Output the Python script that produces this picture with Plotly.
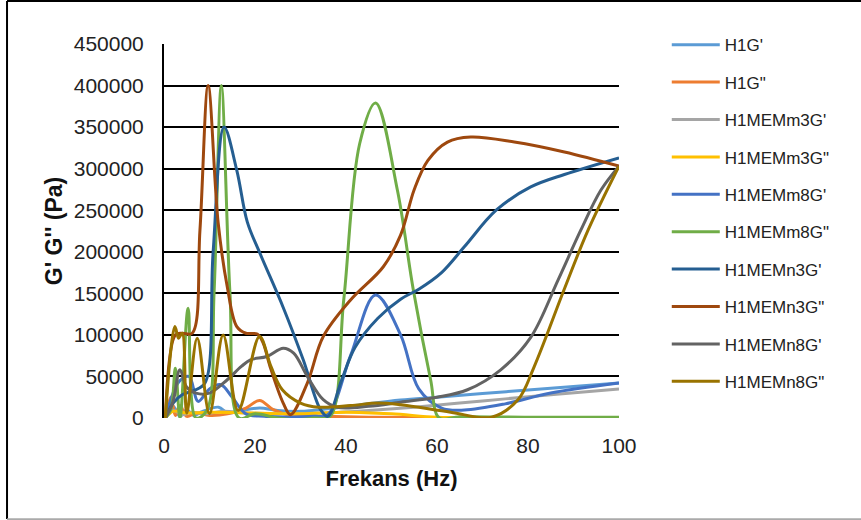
import plotly.graph_objects as go

# Frequency sweep (Hz) and moduli (Pa) for each sample
x_h1g1 = [0.3, 2, 3.5, 5, 6.5, 8.5, 12, 14, 17, 21, 25, 30, 36, 42, 52, 60, 70, 80, 90, 100]
y_h1g1 = [0, 14000, 2000, 10000, 3000, 8000, 13000, 6000, 9000, 12000, 9000, 8000, 11000, 15000, 21600, 25000, 29500, 33700, 38000, 42000]

x_h1g2 = [0.3, 1.5, 2.5, 3.5, 5, 7, 10, 14, 18, 21, 24, 28, 35, 45, 60, 80, 100]
y_h1g2 = [0, 25000, 3000, 15000, 2000, 6000, 3000, 5000, 12000, 21000, 10000, 3000, 2000, 1000, 500, 500, 500]

x_m3g1 = [0.3, 2, 4, 6, 9, 13, 18, 25, 35, 45, 55, 65, 75, 85, 100]
y_m3g1 = [0, 9000, 4000, 7000, 5000, 8000, 6000, 5000, 6000, 9000, 13000, 18000, 23000, 28000, 35000]

x_m3g2 = [0.3, 2, 5, 10, 20, 30, 40, 50, 60, 70, 100]
y_m3g2 = [0, 8000, 6000, 7000, 6000, 5000, 7000, 5000, 1000, 500, 500]

x_m8g1 = [0.3, 2, 3.5, 5.5, 7.5, 10, 12.5, 15, 18, 22, 28, 33, 36, 41, 46.5, 52, 56, 61, 66, 75, 85, 100]
y_m8g1 = [0, 30000, 45000, 50000, 20000, 35000, 40000, 25000, 5000, 2000, 1000, 2000, 4000, 75000, 148000, 100000, 35000, 12000, 9600, 17000, 30000, 42000]

x_m8g2 = [0.3, 1.5, 2.5, 3.5, 5.3, 7, 9.5, 11, 12.6, 14.5, 16.5, 20, 25, 29, 33, 36.5, 39.5, 43, 46.5, 51.3, 54.8, 58.6, 60.5, 65, 80, 100]
y_m8g2 = [0, 10000, 60000, 0, 132000, 0, 10000, 150000, 400000, 150000, 0, 5000, 0, -2000, 0, 2000, 142000, 330000, 379000, 274000, 154000, 46000, 0, 1500, 1000, 1000]

x_n3g1 = [0.3, 2, 4, 6.5, 9, 10.8, 13.2, 16, 18.3, 21.1, 26.2, 30.6, 34.4, 36, 39, 42, 47, 52, 56, 61, 66, 73, 80.6, 88, 100]
y_n3g1 = [0, 18000, 28000, 33000, 42000, 200000, 350000, 298000, 236000, 198000, 133000, 70000, 10000, 2000, 45000, 85000, 120000, 143000, 155000, 175000, 206000, 250000, 278000, 293000, 313000]

x_n3g2 = [0.3, 2.5, 4, 6.2, 7.9, 9.7, 11.9, 13.9, 16, 18, 20.5, 21.8, 23.3, 26.2, 27.8, 31.5, 35, 41, 48.2, 52, 55, 58, 62.3, 67.4, 77, 88, 100]
y_n3g2 = [0, 100000, 102000, 102000, 226000, 400000, 235000, 158000, 110000, 102000, 101000, 90000, 62000, 18000, 4000, 42000, 98000, 142000, 182000, 220000, 275000, 310000, 332000, 338000, 332000, 320000, 303000]

x_n8g1 = [0.3, 2, 3.5, 5, 7, 10, 13.9, 17, 19, 22.6, 26.2, 28.5, 31.5, 35, 38, 45, 52, 60, 66.7, 74, 80.6, 86.6, 91.6, 96, 100]
y_n8g1 = [0, 20000, 58000, 37000, 30000, 30000, 46000, 62000, 70000, 74000, 84000, 78000, 50000, 22000, 13000, 14000, 19000, 25000, 34000, 58000, 97000, 166000, 226000, 274000, 303000]

x_n8g2 = [0.3, 2.4, 3.2, 4, 5, 7.3, 10, 13, 16.3, 21, 23.5, 26, 30, 34, 41, 47, 52, 63, 72, 77.8, 81.3, 87.9, 93.2, 100]
y_n8g2 = [0, 110000, 96000, 102000, 6000, 96000, 5000, 100000, 9000, 98000, 62000, 34000, 18000, 13000, 15000, 18000, 16000, 7000, 1000, 22000, 61000, 154000, 226000, 303000]

series = [
    ("H1G'", x_h1g1, y_h1g1, "#5B9BD5"),
    ('H1G"', x_h1g2, y_h1g2, "#ED7D31"),
    ("H1MEMm3G'", x_m3g1, y_m3g1, "#A5A5A5"),
    ('H1MEMm3G"', x_m3g2, y_m3g2, "#FFC000"),
    ("H1MEMm8G'", x_m8g1, y_m8g1, "#4472C4"),
    ('H1MEMm8G"', x_m8g2, y_m8g2, "#70AD47"),
    ("H1MEMn3G'", x_n3g1, y_n3g1, "#255E91"),
    ('H1MEMn3G"', x_n3g2, y_n3g2, "#9E480E"),
    ("H1MEMn8G'", x_n8g1, y_n8g1, "#636363"),
    ('H1MEMn8G"', x_n8g2, y_n8g2, "#997300"),
]

x_ticks = [0, 20, 40, 60, 80, 100]
y_ticks = [0, 50000, 100000, 150000, 200000, 250000, 300000, 350000, 400000, 450000]

FONT = "Liberation Sans, Arial, sans-serif"

fig = go.Figure()
for i, (name, xs, ys, color) in enumerate(series):
    fig.add_trace(go.Scatter(
        x=xs, y=ys, name=name, mode="lines",
        line=dict(color=color, width=3, shape="spline", smoothing=1.0),
        legendgroup=f"g{i}",
    ))

fig.update_layout(
    width=861, height=520,
    margin=dict(l=164, r=242, t=44, b=102),
    paper_bgcolor="white", plot_bgcolor="white",
    font=dict(family=FONT, color="#222222"),
    showlegend=True,
    legend=dict(
        x=1.105, y=1.045, xanchor="left", yanchor="top",
        font=dict(family=FONT, size=17, color="#222222"),
        itemwidth=48, tracegroupgap=12.3, bgcolor="rgba(0,0,0,0)",
        maxheight=510,
    ),
    xaxis=dict(
        range=[0, 100], tickvals=x_ticks, ticktext=[str(v) for v in x_ticks],
        showgrid=False, zeroline=False, showline=False, ticks="",
        ticklabelstandoff=13,
        tickfont=dict(size=21, family=FONT, color="#222222"),
        title=dict(text="<b>Frekans (Hz)</b>", font=dict(size=22, family=FONT, color="#111111"), standoff=14),
    ),
    yaxis=dict(
        range=[0, 450000], tickvals=y_ticks, ticktext=[str(v) for v in y_ticks],
        showgrid=True, gridcolor="black", gridwidth=2,
        zeroline=False, showline=True, linecolor="black", linewidth=2, ticks="",
        ticklabelstandoff=14,
        tickfont=dict(size=21, family=FONT, color="#222222"),
        title=dict(text="<b>G' G'' (Pa)</b>", font=dict(size=23, family=FONT, color="#111111"), standoff=5),
    ),
)

# outer chart frame
fig.add_shape(type="line", xref="paper", yref="paper", x0=-0.345, x1=1.54, y0=1.115, y1=1.115,
              line=dict(color="black", width=2))
fig.add_shape(type="line", xref="paper", yref="paper", x0=-0.345, x1=-0.345, y0=1.115, y1=-0.27,
              line=dict(color="black", width=2))
fig.add_shape(type="line", xref="paper", yref="paper", x0=-0.345, x1=1.54, y0=-0.271, y1=-0.271,
              line=dict(color="#AAAAAA", width=2))

fig.write_html("out.html")
